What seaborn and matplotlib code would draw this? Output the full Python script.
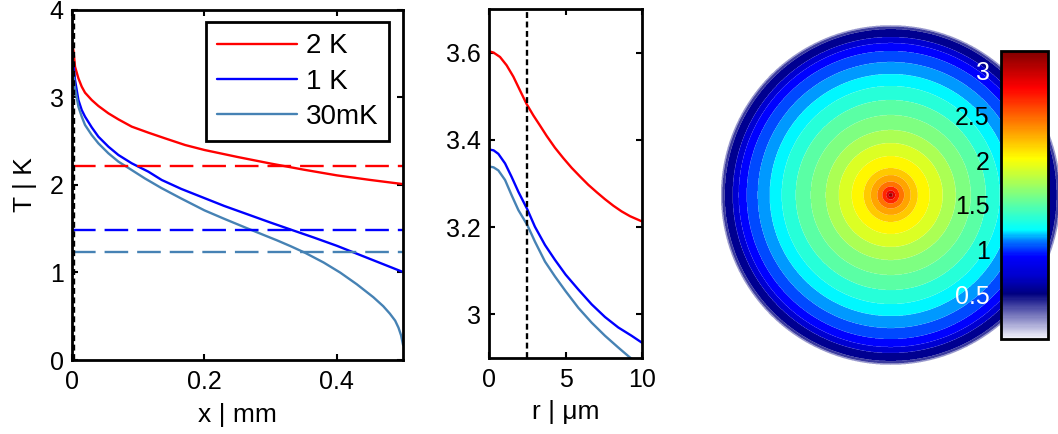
import numpy as np
import pandas as pd
import matplotlib
matplotlib.use("Agg")
import matplotlib.pyplot as plt
import seaborn as sns
from matplotlib.colors import LinearSegmentedColormap, Normalize
from matplotlib.cm import ScalarMappable
from matplotlib.lines import Line2D

# ---------------- data ----------------
series_names = ["2 K", "1 K", "30mK"]
series_colors = ["#ff0000", "#0000ff", "#4682b4"]

# panel 1: T along x (mm)
x_2K = [0, 0.002, 0.0045, 0.0096, 0.0146, 0.0196, 0.0297, 0.0398, 0.0549, 0.07,
        0.0901, 0.1153, 0.1405, 0.1707, 0.2, 0.25, 0.3, 0.35, 0.4, 0.45, 0.5]
T_2K = [3.58, 3.543, 3.352, 3.219, 3.124, 3.055, 2.971, 2.903, 2.819, 2.750,
        2.667, 2.598, 2.533, 2.457, 2.40, 2.32, 2.245, 2.175, 2.11, 2.058, 2.01]
x_1K = [0, 0.002, 0.0045, 0.0096, 0.0146, 0.0196, 0.0297, 0.0398, 0.0549, 0.07,
        0.0901, 0.1153, 0.1355, 0.165, 0.2, 0.23, 0.261, 0.3, 0.332, 0.365, 0.4,
        0.425, 0.455, 0.48, 0.5]
T_1K = [3.40, 3.371, 3.20, 2.971, 2.857, 2.781, 2.659, 2.552, 2.438, 2.343,
        2.248, 2.152, 2.057, 1.955, 1.85, 1.76, 1.676, 1.57, 1.486, 1.40, 1.305,
        1.23, 1.14, 1.065, 1.005]
x_30mK = [0, 0.002, 0.0045, 0.0096, 0.0146, 0.0196, 0.0297, 0.0398, 0.0549, 0.07,
          0.0901, 0.11, 0.135, 0.165, 0.2, 0.23, 0.261, 0.29, 0.31, 0.33, 0.352,
          0.38, 0.405, 0.43, 0.455, 0.47, 0.48, 0.488, 0.493, 0.497, 0.5]
T_30mK = [3.33, 3.295, 3.105, 2.895, 2.781, 2.686, 2.571, 2.476, 2.362, 2.267,
          2.171, 2.075, 1.965, 1.845, 1.71, 1.613, 1.516, 1.427, 1.366, 1.301, 1.225,
          1.114, 0.999, 0.866, 0.718, 0.615, 0.53, 0.45, 0.37, 0.28, 0.17]
dash_levels = [2.22, 1.486, 1.23]
probe_x_mm = 0.0025

# panel 2: T along r (um)
r_2K = [0, 0.3, 0.72, 1.15, 1.59, 2.03, 2.46, 2.90, 3.33, 3.77, 4.31, 4.86, 5.40,
        5.95, 6.49, 7.04, 7.58, 8.13, 8.67, 9.22, 10]
Tr_2K = [3.603, 3.600, 3.590, 3.571, 3.545, 3.513, 3.482, 3.456, 3.433, 3.409,
         3.382, 3.358, 3.336, 3.316, 3.297, 3.280, 3.264, 3.249, 3.236, 3.225, 3.213]
r_1K = [0, 0.3, 0.61, 1.05, 1.48, 1.92, 2.5, 3.0, 3.66, 4.31, 5.01, 5.84, 6.71,
        7.58, 8.45, 9.32, 10]
Tr_1K = [3.378, 3.376, 3.368, 3.346, 3.315, 3.281, 3.241, 3.201, 3.159, 3.125,
         3.091, 3.057, 3.023, 2.994, 2.970, 2.951, 2.935]
r_30mK = [0, 0.3, 0.61, 1.05, 1.48, 1.92, 2.5, 3.0, 3.66, 4.31, 5.01, 5.84, 6.71,
          7.58, 8.45, 9.15, 10]
Tr_30mK = [3.339, 3.337, 3.330, 3.308, 3.273, 3.239, 3.205, 3.167, 3.121, 3.087,
           3.053, 3.015, 2.981, 2.951, 2.924, 2.903, 2.880]
probe_r_um = 2.5

# panel 3: radial temperature map (ring outer radius in px of a 170 px disk, ring value)
ring_outer = [2, 4.5, 8.5, 13.5, 20, 27, 39, 52, 65, 80, 95, 109, 121, 133,
              144, 152, 158, 166, 168.5, 170]
ring_value = [3.12, 2.9, 2.68, 2.45, 2.3, 2.18, 2.05, 1.9, 1.76, 1.62, 1.5,
              1.34, 1.21, 1.12, 1.03, 0.93, 0.72, 0.55, 0.38, 0.2]
disk_radius = 170

# colormap nodes (value, colour)
cmap_values = [0.0, 0.5, 0.70, 0.92, 1.10, 1.22, 1.62, 2.02, 2.41, 2.81, 3.22]
cmap_colors = [(0.96, 0.96, 0.99), (0, 0, 0.5), (0, 0, 0.8), (0, 0, 1), (0, 0.5, 1),
               (0, 1, 1), (0.5, 1, 0.5), (1, 1, 0), (1, 0.5, 0), (1, 0, 0), (0.5, 0, 0)]
cbar_ticks = [0.5, 1, 1.5, 2, 2.5, 3]
cbar_labels = ["0.5", "1", "1.5", "2", "2.5", "3"]
cbar_label_colors = ["white", "black", "black", "black", "black", "white"]

# ---------------- style ----------------
sns.set_theme(style="ticks")
plt.rcParams["font.family"] = ["Liberation Sans", "DejaVu Sans"]
plt.rcParams.update({
    "axes.edgecolor": "black", "axes.linewidth": 2.0,
    "xtick.direction": "in", "ytick.direction": "in",
    "xtick.top": True, "ytick.right": True,
    "xtick.bottom": True, "ytick.left": True,
    "xtick.major.size": 4, "ytick.major.size": 4,
    "xtick.major.width": 1.5, "ytick.major.width": 1.5,
    "xtick.major.pad": 7, "ytick.major.pad": 6,
    "xtick.labelsize": 18, "ytick.labelsize": 18,
    "axes.labelsize": 19,
    "xtick.color": "black", "ytick.color": "black",
    "text.color": "black", "axes.labelcolor": "black",
})

fig = plt.figure(figsize=(10.58, 4.34), dpi=100)

# ---------------- panel 1 ----------------
ax1 = fig.add_axes([0.0681, 0.1705, 0.3129, 0.8065])
p1 = [(x_2K, T_2K), (x_1K, T_1K), (x_30mK, T_30mK)]
for (xs, ts), col in zip(p1, series_colors):
    df = pd.DataFrame({"x": xs, "T": ts})
    sns.lineplot(data=df, x="x", y="T", ax=ax1, color=col, lw=1.7,
                 sort=False, estimator=None)
for lvl, col in zip(dash_levels, series_colors):
    ax1.axhline(lvl, color=col, lw=1.7, ls=(0, (10, 3.8)))
ax1.axvline(probe_x_mm, color="black", lw=1.7, ls=(0, (2.5, 1.5)))
ax1.set_xlim(0, 0.5)
ax1.set_ylim(0, 4)
ax1.set_xticks([0, 0.2, 0.4])
ax1.set_xticklabels(["0", "0.2", "0.4"])
ax1.set_yticks([0, 1, 2, 3, 4])
ax1.set_yticklabels(["0", "1", "2", "3", "4"])
ax1.set_xlabel("x | mm", labelpad=7)
ax1.set_ylabel("T | K", labelpad=9)
handles = [Line2D([0], [0], color=c, lw=1.7) for c in series_colors]
leg = ax1.legend(handles, series_names, loc="upper right",
                 bbox_to_anchor=(0.9586, 0.965), fontsize=20, frameon=True,
                 fancybox=False, framealpha=1, edgecolor="black",
                 handlelength=2.9, handletextpad=0.3, borderpad=0.4,
                 labelspacing=0.33, borderaxespad=0)
leg.get_frame().set_linewidth(2.0)

# ---------------- panel 2 ----------------
ax2 = fig.add_axes([0.4622, 0.1751, 0.1446, 0.8042])
p2 = [(r_2K, Tr_2K), (r_1K, Tr_1K), (r_30mK, Tr_30mK)]
for (rs, ts), col in zip(p2, series_colors):
    df = pd.DataFrame({"r": rs, "T": ts})
    sns.lineplot(data=df, x="r", y="T", ax=ax2, color=col, lw=1.7,
                 sort=False, estimator=None)
ax2.axvline(probe_r_um, color="black", lw=1.7, ls=(0, (2.5, 1.5)))
ax2.set_xlim(0, 10)
ax2.set_ylim(2.9, 3.7)
ax2.set_xticks([0, 5, 10])
ax2.set_xticklabels(["0", "5", "10"])
ax2.set_yticks([3.0, 3.2, 3.4, 3.6])
ax2.set_yticklabels(["3", "3.2", "3.4", "3.6"])
ax2.set_xlabel("r | μm", labelpad=6)
ax2.set_ylabel("")

# ---------------- panel 3 ----------------
vmax = cmap_values[-1]
cmap = LinearSegmentedColormap.from_list(
    "jetw", list(zip([v / vmax for v in cmap_values], cmap_colors)))
norm = Normalize(0, vmax)

ax3 = fig.add_axes([0.6812, 0.159, 0.3214, 0.7834])
g = np.linspace(-1.0, 1.0, 1001)
X, Y = np.meshgrid(g, g)
R = np.hypot(X, Y) * disk_radius
outer = np.asarray(ring_outer, float)
vals = np.asarray(ring_value, float)
idx = np.clip(np.searchsorted(outer, R, side="left"), 0, len(vals) - 1)
Z = np.ma.masked_where(R > disk_radius, vals[idx])
v_asc = np.sort(vals)
levels = np.concatenate([[v_asc[0] - 0.1], (v_asc[:-1] + v_asc[1:]) / 2, [v_asc[-1] + 0.1]])
ax3.contourf(X, Y, Z, levels=levels, colors=[cmap(norm(v)) for v in v_asc],
             antialiased=True)
ax3.set_xlim(-1, 1)
ax3.set_ylim(-1, 1)
ax3.set_aspect("equal")
ax3.axis("off")

cax = fig.add_axes([0.9461, 0.2189, 0.0444, 0.6636])
sm = ScalarMappable(norm=norm, cmap=cmap)
cb = fig.colorbar(sm, cax=cax)
cb.outline.set_linewidth(2.0)
cb.set_ticks(cbar_ticks)
cb.set_ticklabels(cbar_labels)
cax.yaxis.set_ticks_position("both")
cax.tick_params(axis="y", direction="in", left=True, right=True,
                labelleft=True, labelright=False, length=4, width=1.5,
                pad=8, labelsize=18)
for lab, c in zip(cax.get_yticklabels(), cbar_label_colors):
    lab.set_color(c)

fig.savefig("out.png", dpi=100)
